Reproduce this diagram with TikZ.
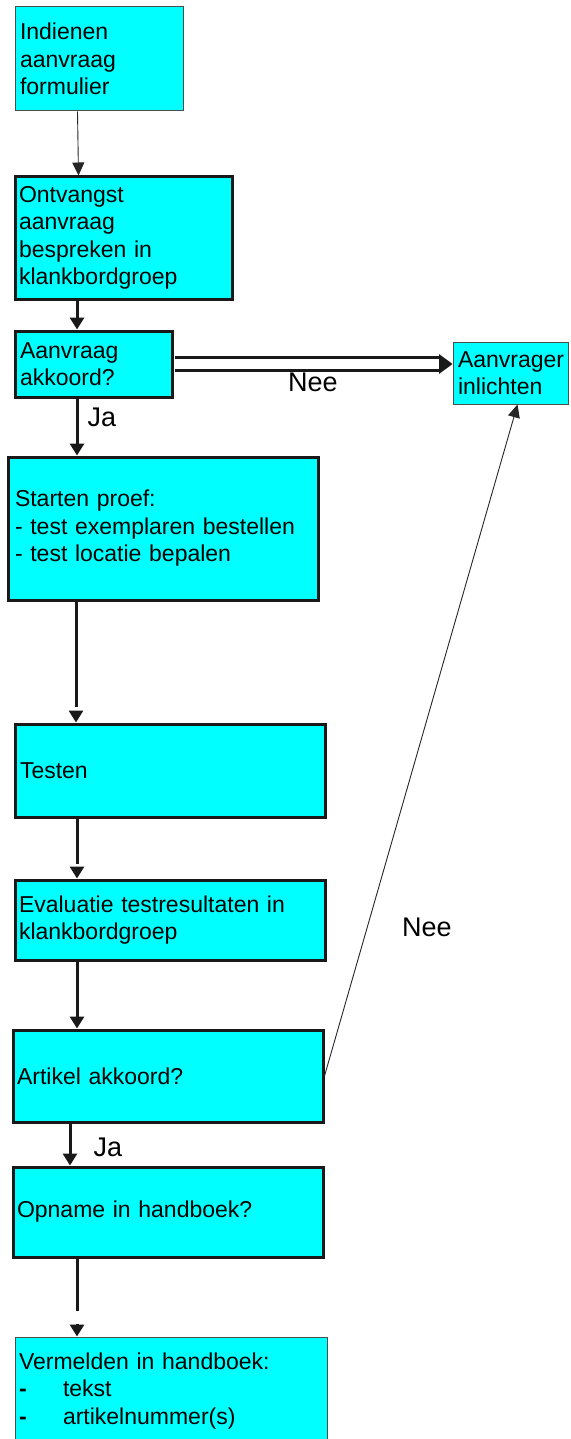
\documentclass[tikz,border=0pt]{standalone}
\usepackage{fontspec}
\setmainfont{Liberation Sans}
\usetikzlibrary{arrows.meta,calc}
\definecolor{boxcyan}{RGB}{0,255,255}
\begin{document}
\begin{tikzpicture}[x=1pt,y=-1pt,
  every node/.style={font=\fontsize{23}{27.5}\selectfont},
  thickbox/.style={draw=black!90, line width=3pt, fill=boxcyan, rectangle, align=left, inner ysep=0pt},
  thinbox/.style={draw=black!70, line width=1pt, fill=boxcyan, rectangle, align=left, inner ysep=0pt},
  lbl/.style={font=\fontsize{27}{30}\selectfont, inner sep=0pt},
  thk/.style={line width=3pt, draw=black!90},
  thn/.style={line width=0.9pt, draw=black!85},
  tipT/.style={-{Triangle[width=14pt,length=12pt]}},
  tipt/.style={-{Triangle[width=12pt,length=13pt]}},
]
\useasboundingbox (0,0) rectangle (570,1439);

\coordinate (c70) at (70,0);
\coordinate (c76) at (76,0);
\coordinate (c77) at (77,0);

\node[thinbox, minimum width=168pt, minimum height=104pt, text width=158pt, inner xsep=5pt] (b1) at (99,59)
  {Indienen\\aanvraag\\formulier};
\node[thickbox, minimum width=217pt, minimum height=122pt, text width=209pt, inner xsep=4pt] (b2) at (123.5,238)
  {Ontvangst\\aanvraag\\bespreken in\\klankbordgroep};
\node[thickbox, minimum width=157pt, minimum height=66pt, text width=147pt, inner xsep=5pt] (b3) at (93.5,364)
  {Aanvraag\\akkoord?};
\node[thinbox, minimum width=115pt, minimum height=62pt, text width=105pt, inner xsep=5pt] (b4) at (510.5,373)
  {Aanvrager\\inlichten};
\node[thickbox, minimum width=310pt, minimum height=143pt, text width=296pt, inner xsep=7pt] (b5) at (163,528.5)
  {Starten proef:\\- test exemplaren bestellen\\- test locatie bepalen};
\node[thickbox, minimum width=310pt, minimum height=93pt, text width=300pt, inner xsep=5pt] (b6) at (170,770.5)
  {Testen};
\node[thickbox, minimum width=310pt, minimum height=80pt, text width=302pt, inner xsep=4pt] (b7) at (170,920)
  {Evaluatie testresultaten in\\klankbordgroep};
\node[thickbox, minimum width=310pt, minimum height=92pt, text width=302pt, inner xsep=4pt] (b8) at (168,1076)
  {Artikel akkoord?};
\node[thickbox, minimum width=310pt, minimum height=90pt, text width=302pt, inner xsep=4pt] (b9) at (168,1212)
  {Opname in handboek?};
\node[thinbox, minimum width=312pt, minimum height=108pt, text width=304pt, inner xsep=4pt] (b10) at (171,1391)
  {Vermelden in handboek:\\\makebox[44pt][l]{\textbf{-}}tekst\\\makebox[44pt][l]{\textbf{-}}artikelnummer(s)};

% labels
\node[lbl] (nee1) at (313,382) {Nee};
\node[lbl] (ja1) at (102,417) {Ja};
\node[lbl] (nee2) at (427,927) {Nee};
\node[lbl] (ja2) at (108,1147) {Ja};

% connectors
\draw[thn, tipt] ($(b1.south west)+(63,0)$) -- ($(b2.north west)+(65,0)$);
\draw[thk, tipT] (b2.south -| c77) -- (b3.north -| c77);
\draw[thk, tipT] (b3.south -| c77) -- (b5.north -| c77);

\draw[thk, shorten >=16pt] (b5.south -| c76) -- (b6.north -| c76);
\draw[thk, tipT] ($(b6.north -| c76)+(0,-12)$) -- (b6.north -| c76);

\draw[thk, shorten >=15pt] (b6.south -| c77) -- (b7.north -| c77);
\draw[thk, tipT] ($(b7.north -| c77)+(0,-12)$) -- (b7.north -| c77);

\draw[thk, tipT] (b7.south -| c77) -- (b8.north -| c77);
\draw[thk, tipT] (b8.south -| c70) -- (b9.north -| c70);

\draw[thk, shorten >=26pt] (b9.south -| c77) -- (b10.north -| c77);
\draw[thk, tipT] ($(b10.north -| c77)+(0,-13)$) -- (b10.north -| c77);

% double arrow Nee
\draw[line width=2.8pt, draw=black!90, double=white, double distance=10.5pt]
  ($(b3.east)+(1.5,0)$) -- ($(b3.east -| b4.west)+(-13,0)$);
\fill[black!90] (b3.east -| b4.west) -- ++(-13.5,-10) -- ++(0,20) -- cycle;

% diagonal Nee
\draw[thn, tipt] (b8.east) -- ($(b4.south)+(7,0)$);
\end{tikzpicture}
\end{document}
